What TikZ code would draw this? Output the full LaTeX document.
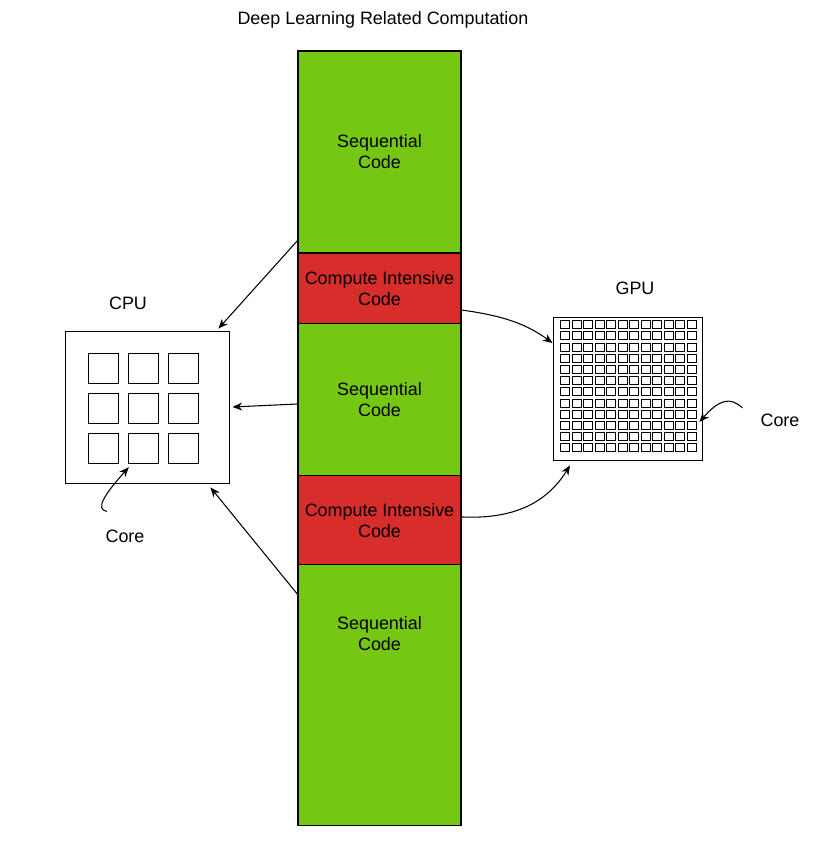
\documentclass[tikz,border=0pt]{standalone}
\usepackage{fontspec}
\setmainfont{Liberation Sans}
\usepackage{xcolor}
\usepackage{tikz}
\usetikzlibrary{arrows.meta, positioning}

\definecolor{seqgreen}{RGB}{118,199,19}
\definecolor{cmpred}{RGB}{215,45,43}

\begin{document}
\begin{tikzpicture}[
    x=0.02cm, y=-0.02cm,
    txt/.style={font=\fontsize{10.2}{12}\selectfont, align=center},
    seg/.style={draw, rectangle, txt, line width=0.6pt, inner sep=0pt,
                outer sep=0pt, minimum width=3.26cm},
    seqseg/.style={seg, fill=seqgreen},
    cmpseg/.style={seg, fill=cmpred},
    chip/.style={draw, rectangle, fill=white, line width=0.55pt, inner sep=0pt},
    core/.style={draw, rectangle, line width=0.55pt, inner sep=0pt,
                 minimum size=0.61cm},
    gcore/.style={draw, rectangle, line width=0.5pt, inner sep=0pt,
                  minimum width=0.18cm, minimum height=0.16cm},
    arrow/.style={-{Stealth[length=5.5pt, width=4.5pt]}, line width=0.6pt}
]
    \useasboundingbox (0,0) rectangle (824,852);

    % ── Title ──
    \node[txt] (title) at (383,20) {Deep Learning Related Computation};

    % ── Column of code segments ──
    \node[seqseg, minimum height=4.04cm] (seq1) at (379.5,152) {Sequential\\Code};
    \node[cmpseg, minimum height=1.42cm, below=0pt of seq1] (cmp1) {Compute Intensive\\Code};
    \node[seqseg, minimum height=3.04cm, below=0pt of cmp1] (seq2) {Sequential\\Code};
    \node[cmpseg, minimum height=1.78cm, below=0pt of seq2] (cmp2) {Compute Intensive\\Code};
    \node[seqseg, minimum height=5.22cm, below=0pt of cmp2] (seq3) {};
    \node[txt] (seq3txt) at (379.5,634) {Sequential\\Code};

    % ── CPU (x=147) ──
    \node[chip, minimum width=3.28cm, minimum height=3.04cm] (cpu) at (147,407) {};
    \node[txt] (cpulbl) at (128,303) {CPU};
    \foreach \i in {0,1,2}
        \foreach \j in {0,1,2}
            \node[core] (c-\i-\j) at (103.5+40*\i, 368.5+40*\j) {};
    \node[txt] (cpucore) at (125,536) {Core};

    % ── GPU (x=627) ──
    \node[chip, minimum width=2.98cm, minimum height=2.86cm] (gpu) at (627.5,388.5) {};
    \node[txt] (gpulbl) at (635,288) {GPU};
    \foreach \i in {0,...,11}
        \foreach \j in {0,...,11}
            \node[gcore] (g-\i-\j) at (565.2+11.5*\i, 324.7+11.2*\j) {};
    \node[txt] (gpucore) at (780,420) {Core};

    % ── Connectors ──
    \draw[arrow] ([yshift=0.26cm]seq1.south west) -- ([shift={(-11,-2)}]cpu.north east);
    \draw[arrow] ([shift={(0,4)}]seq2.west) -- ([shift={(3,0)}]cpu.east);
    \draw[arrow] ([shift={(0,30)}]seq3.north west) -- ([shift={(-19,4)}]cpu.south east);
    \draw[arrow] ([shift={(0,21.5)}]cmp1.east)
        .. controls +(45,6) and +(-25,-18) .. ([shift={(0,-45.5)}]gpu.west);
    \draw[arrow] ([shift={(0,-3.5)}]cmp2.east)
        .. controls +(60,3) and +(-20,32) .. ([shift={(-57.5,5)}]gpu.south);

    % core pointers
    \draw[arrow] ([shift={(-18,-12)}]cpucore.north)
        .. controls +(-12,-2) and +(-25,28) .. ([shift={(1,3)}]c-1-2.south west);
    \draw[arrow] ([shift={(-12,-12)}]gpucore.west)
        .. controls +(-12,-12) and +(19,-22) .. ([shift={(-3,33.5)}]gpu.east);

\end{tikzpicture}
\end{document}
